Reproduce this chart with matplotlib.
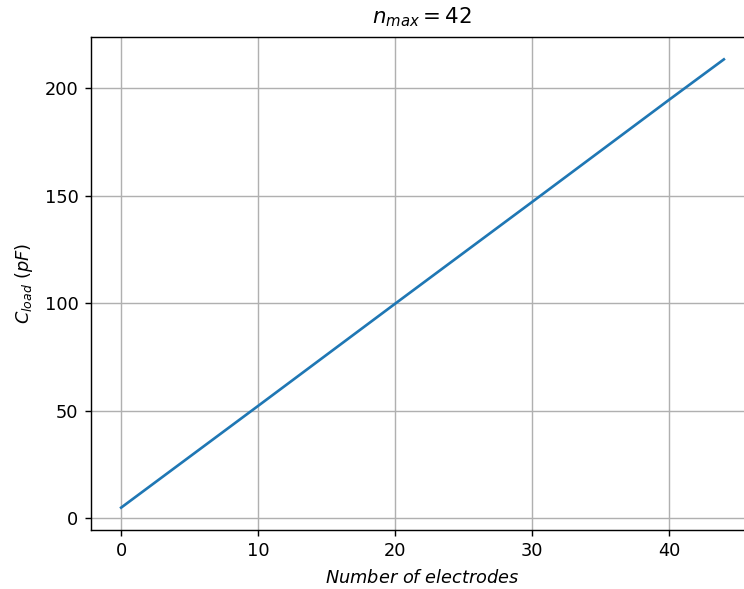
import matplotlib.pyplot as plt

# readings (load capacitance vs electrode count)
n_electrodes = [0, 10, 20, 30, 40, 44]
c_load = [5.0, 52.3, 99.8, 147.1, 194.6, 213.4]

DPI = 128
fig = plt.figure(figsize=(744 / DPI, 589 / DPI), dpi=DPI)
# the original is cropped on the right, so the axes run past the figure edge
ax = fig.add_axes([91 / 744, 1 - 530 / 589, (754 - 91) / 744, (530 - 37) / 589])

ax.plot(n_electrodes, c_load, color="#1f77b4", linewidth=1.5)
ax.set_xlim(-2.2, 46.2)
ax.set_ylim(-5.4, 223.8)
ax.set_xticks([0, 10, 20, 30, 40])
ax.set_yticks([0, 50, 100, 150, 200])
ax.grid(True)
ax.set_axisbelow(True)

ax.set_xlabel(r"$Number\ of\ electrodes$", labelpad=5)
ax.set_ylabel(r"$C_{load}\ (pF)$", labelpad=5.5)
ax.set_title(r"$n_{max} = 42$", fontsize=12, pad=7.5)

fig.savefig("out.png", dpi=DPI)
